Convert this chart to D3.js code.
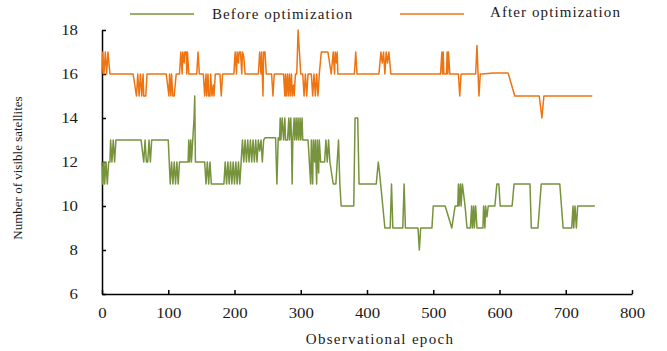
<!DOCTYPE html>
<html>
<head>
<meta charset="utf-8">
<script src="https://cdn.jsdelivr.net/npm/d3@7"></script>
<style>
  body { margin: 0; background: #fff; }
  text { font-family: "Liberation Serif", "Times New Roman", serif; fill: #1a1a1a; }
</style>
</head>
<body>
<figure id="chart" style="margin:0"></figure>
<script>
// tick labels
const epochTicks = [0, 100, 200, 300, 400, 500, 600, 700, 800];
const countTicks = [6, 8, 10, 12, 14, 16, 18];
const seriesNames = ["Before optimization", "After optimization"];

// [epoch, visible satellites]
const beforeOpt = [
  [0,12],[1,11],[3,12],[4,11],[6,12],[8,11],[10,12],[12,12],[13,13],[15,12],[17,13],[19,12],[21,13],
  [59,13],[63,12],[65,13],[67,12],[69,12],[71,13],[73,12],[75,13],
  [100,13],[103,11],[105,12],[107,11],[109,12],[111,11],[113,12],[115,11],[117,12],
  [130,12],[131,13],[132,12],[134,13],[135,12],[137,13],[139,14],[140,15],[141,12],
  [155,12],[157,11],[159,12],[161,11],[163,12],[165,11],[168,11],[184,11],
  [186,12],[188,11],[190,12],[192,11],[194,12],[196,11],[198,12],[200,11],[202,12],[204,11],[206,12],[208,11],[210,12],
  [212,13],[214,12],[216,13],[218,12],[220,13],[222,12],[224,13],[226,12],[228,13],[230,12],[232,13],[234,12],[236,13],[238,12.5],[240,13],[242,12],[244,13],
  [246,13.1],[262,13.1],[264,11],[266,13.1],
  [268,13],[269,14],[270,13],[272,14],[274,13],[276,14],[277,13],
  [280,13],[282,14],[283,13],[285,14],[286,13],[287,11],[288,13],[290,14],[291,13],[293,14],[294,13],[296,14],[297,13],[299,14],[300,13],[302,14],[303,13],
  [311,13],[313,12],[315,11],[316,13],[318,11],[319,13],[321,12],[322,13],[324,11],[325,13],[327,11.5],[328,13],[330,12],[332,12],
  [336,12],[338,13],[340,12],[342,13],[344,12],[349,11],[353,11],[355,12],[357,13],[359,11],[361,10],
  [380,10],[382,14],[386,14],[388,11],[414,11],[417,12],[419,11.5],[427,9],
  [435,9],[437,11],[439,9],[454,9],[456,11],[458,9],[477,9],[479,8],[481,9],[498,9],[500,10],[518,10],
  [528,9],[533,10],[537,10],[538,11],[539,10],[541,11],[542,10],[544,11],[546,10.5],[548,10],[551,9],
  [556,9],[558,10],[559,9],[561,10],[562,9],[564,10],[566,9],[575,9],[576,10],[578,9],[579,10],[581,9.5],[583,10],
  [593,10],[596,11],[599,11],[601,10],[604,10],[619,10],[622,11],[646,11],[648,9],[658,9],[663,11],
  [691,11],[696,9],[709,9],[711,10],[712,9],[714,10],[716,9],[718,10],[720,10],[744,10]
];

const afterOpt = [
  [0,16],[1,17],[3,16],[5,17],[7,16],[9,17],[12,16],
  [47,16],[52,15],[54,16],[56,15],[58,16],[60,15],[62,16],[63,15],[66,15],[68,16],
  [97,16],[101,15],[102,16],[104,15],[105,16],[107,15],[109,15],[112,16],
  [117,16],[119,17],[121,16],[122,17],[124,16.5],[125,17],[127,17],[128,16],[129,17],[131,16],
  [143,16],[145,17],[147,16],
  [153,16],[155,15],[157,16],[158,15],[160,16],[161,15],[163,15],[164,16],[166,15],[168,15.5],[169,15],[171,16],
  [178,16],[180,15],[182,16],
  [199,16],[201,17],[203,16],[204,17],[206,16.5],[207,17],[209,17],[211,16],[212,17],[214,16.8],[216,16],
  [236,16],[238,17],[240,16],[241,17],[243,15],[244,17],[246,17],[248,16],
  [256,16],[258,15],[260,16],
  [274,16],[276,15],[277,16],[278,15],[280,16],[281,15],[283,16],[284,15],[286,16],[287,15],[289,15.5],[290,15],[292,16],
  [294,16],[296,18],[298,17],[300,16],[303,16],[305,15],[307,16],[309,15],[311,16],
  [316,16],[318,15],[320,16],[322,15],[324,16],[326,15],[328,16],
  [331,17],[341,17],[346,16],[349,17],[351,16],[352,17],[354,16.5],[355,17],[356,16],
  [381,16],[383,17],[385,16],
  [418,16],[421,17],[423,16.5],[425,17],[427,16],[429,17],[431,16.5],[433,17],[436,16],
  [511,16],[513,17],[514,16],[515,17],[516,16],[520,16],[521,17],[522,16],[523,17],[525,16],
  [538,16],[540,15],[542,16],
  [564,16],[566,17.3],[567,16.5],[569,15],[571,16],[574,16],
  [590,16.05],[613,16.05],[623,15],[660,15],[664,14],[667,15],[740,15]
];

const colors = ["#77933c", "#ee7412"];

const width = 667, height = 351;
const margin = { top: 30, right: 35, bottom: 57, left: 102 };
const stretch = 1.12; // the original text is a little wide

const svg = d3.select("figure#chart")
  .append("svg")
  .attr("width", width)
  .attr("height", height);

const x = d3.scaleLinear()
  .domain([0, 800])
  .range([margin.left, width - margin.right]);

const y = d3.scaleLinear()
  .domain([6, 18])
  .range([height - margin.bottom, margin.top]);

// axes, ticks pointing inward
svg.append("g")
  .attr("transform", "translate(0," + (height - margin.bottom) + ")")
  .call(d3.axisBottom(x).tickValues(epochTicks).tickSize(-4).tickSizeOuter(0).tickPadding(13))
  .call(g => g.selectAll("text")
    .style("font-size", "15px")
    .attr("fill", "#1a1a1a")
    .attr("transform", "scale(" + stretch + ",1)"));

svg.append("g")
  .attr("transform", "translate(" + margin.left + ",0)")
  .call(d3.axisLeft(y).tickValues(countTicks).tickSize(-4).tickSizeOuter(0).tickPadding(24))
  .call(g => g.selectAll("text")
    .style("font-size", "15px")
    .attr("fill", "#1a1a1a")
    .attr("x", -24 / stretch)
    .attr("transform", "scale(" + stretch + ",1)"));

svg.selectAll(".domain, .tick line").attr("stroke", "#000").attr("stroke-width", 1.5);

const line = d3.line()
  .x(d => x(d[0]))
  .y(d => y(d[1]));

[beforeOpt, afterOpt].forEach((s, i) => {
  svg.append("path")
    .datum(s)
    .attr("fill", "none")
    .attr("stroke", colors[i])
    .attr("stroke-width", 1.5)
    .attr("stroke-linejoin", "round")
    .attr("d", line);
});

// legend
const legendX = [130, 400];
const legendTextX = [212, 490];
seriesNames.forEach((name, i) => {
  svg.append("line")
    .attr("x1", legendX[i]).attr("x2", legendX[i] + 64)
    .attr("y1", 14).attr("y2", 14)
    .attr("stroke", colors[i])
    .attr("stroke-width", 1.5);
  svg.append("text")
    .attr("x", legendTextX[i])
    .attr("y", 19 - i * 2)
    .style("font-size", "15px")
    .style("letter-spacing", "1.1px")
    .text(name);
});

// axis titles
svg.append("text")
  .attr("x", 380)
  .attr("y", 344)
  .attr("text-anchor", "middle")
  .style("font-size", "15px")
  .style("letter-spacing", "1.3px")
  .text("Observational epoch");

svg.append("text")
  .attr("transform", "translate(22,168) rotate(-90)")
  .attr("text-anchor", "middle")
  .style("font-size", "13px")
  .text("Number of visible satellites");
</script>
</body>
</html>
